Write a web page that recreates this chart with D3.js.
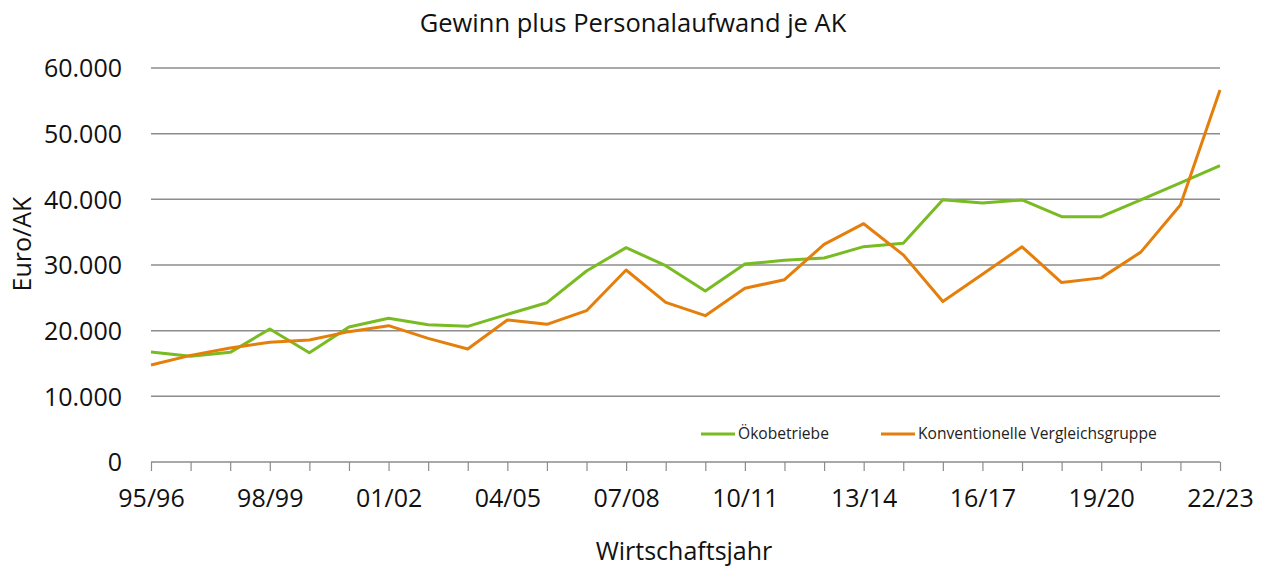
<!DOCTYPE html>
<html>
<head>
<meta charset="utf-8">
<script src="https://cdn.jsdelivr.net/npm/d3@7"></script>
<style>
  body { margin: 0; background: #fff; }
  svg text { font-family: "Open Sans", sans-serif; fill: #111; }
</style>
</head>
<body>
<svg id="chart"></svg>
<script>
var width = 1266;
var height = 568;
var margin = {top: 68, right: 46, bottom: 106, left: 151};

// Wirtschaftsjahre 95/96 ... 22/23
var years = ["95/96","96/97","97/98","98/99","99/00","00/01","01/02","02/03","03/04","04/05",
             "05/06","06/07","07/08","08/09","09/10","10/11","11/12","12/13","13/14","14/15",
             "15/16","16/17","17/18","18/19","19/20","20/21","21/22","22/23"];
var tickLabels = ["95/96","98/99","01/02","04/05","07/08","10/11","13/14","16/17","19/20","22/23"];
var yTicks = [0, 10000, 20000, 30000, 40000, 50000, 60000];

var oeko = [16750, 16100, 16700, 20250, 16650, 20550, 21880, 20900, 20660, 22490,
            24260, 29080, 32640, 29900, 26040, 30150, 30710, 31060, 32790, 33300,
            39950, 39440, 39900, 37350, 37350, 39900, 42500, 45140];
var konv = [14770, 16240, 17360, 18220, 18580, 19850, 20760, 18830, 17200, 21620,
            20960, 23040, 29240, 24310, 22280, 26450, 27760, 33150, 36290, 31550,
            24430, 28600, 32770, 27330, 28040, 31960, 39130, 56640];

var seriesNames = ["Ökobetriebe", "Konventionelle Vergleichsgruppe"];
var seriesColors = ["#78bb22", "#e47f0c"];

var svg = d3.select('#chart')
  .attr('width', width)
  .attr('height', height);

var xScale = d3.scalePoint()
  .domain(years)
  .range([margin.left, width - margin.right]);

var yScale = d3.scaleLinear()
  .domain([0, 60000])
  .range([height - margin.bottom, margin.top]);

var fmt = function(v){ return v === 0 ? "0" : d3.format(",")(v).replace(/,/g, "."); };

// grid lines
svg.append('g')
  .selectAll('line')
  .data(yTicks.filter(d => d > 0))
  .enter()
  .append('line')
    .attr('x1', margin.left)
    .attr('x2', width - margin.right)
    .attr('y1', d => yScale(d))
    .attr('y2', d => yScale(d))
    .attr('stroke', '#8c8c8c')
    .attr('stroke-width', 1.5);

// y axis (labels only)
var yAxis = svg.append('g')
  .attr('transform', `translate(${margin.left}, 0)`)
  .call(d3.axisLeft(yScale).tickValues(yTicks).tickFormat(fmt).tickSize(0).tickPadding(29));
yAxis.select('.domain').remove();
yAxis.selectAll('text')
  .style('font-size', '25px')
  .attr('dy', '0.35em');

// x axis
var xAxis = svg.append('g')
  .attr('transform', `translate(0, ${yScale(0)})`)
  .call(d3.axisBottom(xScale).tickSize(9).tickSizeOuter(0)
    .tickFormat(d => tickLabels.indexOf(d) >= 0 ? d : ""));
xAxis.select('.domain').attr('stroke', '#8c8c8c').attr('stroke-width', 1.5)
  .attr('d', `M${margin.left},0H${width - margin.right}`);
xAxis.selectAll('.tick line').attr('stroke', '#8c8c8c').attr('stroke-width', 1.2);
xAxis.selectAll('text')
  .style('font-size', '25px')
  .attr('dy', null)
  .attr('y', 45);

// lines
var line = d3.line()
  .x((d, i) => xScale(years[i]))
  .y(d => yScale(d));

[oeko, konv].forEach(function(s, k){
  svg.append('path')
    .datum(s)
    .attr('fill', 'none')
    .attr('stroke', seriesColors[k])
    .attr('stroke-width', 3)
    .attr('stroke-linejoin', 'round')
    .attr('d', line);
});

// legend
var legendX = [701, 881];
seriesNames.forEach(function(name, k){
  var g = svg.append('g').attr('transform', `translate(${legendX[k]}, 434)`);
  g.append('line')
    .attr('x1', 0).attr('x2', 34)
    .attr('stroke', seriesColors[k])
    .attr('stroke-width', 3);
  g.append('text')
    .attr('x', 37)
    .attr('dy', '0.35em')
    .style('font-size', '15.6px')
    .style('fill', '#222')
    .text(name);
});

// title
svg.append('text')
  .attr('x', 633)
  .attr('y', 32)
  .style('text-anchor', 'middle')
  .style('font-size', '25.5px')
  .text('Gewinn plus Personalaufwand je AK');

// axis titles
svg.append('text')
  .attr('x', 684)
  .attr('y', 560)
  .style('text-anchor', 'middle')
  .style('font-size', '25px')
  .text('Wirtschaftsjahr');

svg.append('text')
  .attr('transform', 'rotate(-90)')
  .attr('x', -244)
  .attr('y', 31)
  .style('text-anchor', 'middle')
  .style('font-size', '25px')
  .text('Euro/AK');
</script>
</body>
</html>
